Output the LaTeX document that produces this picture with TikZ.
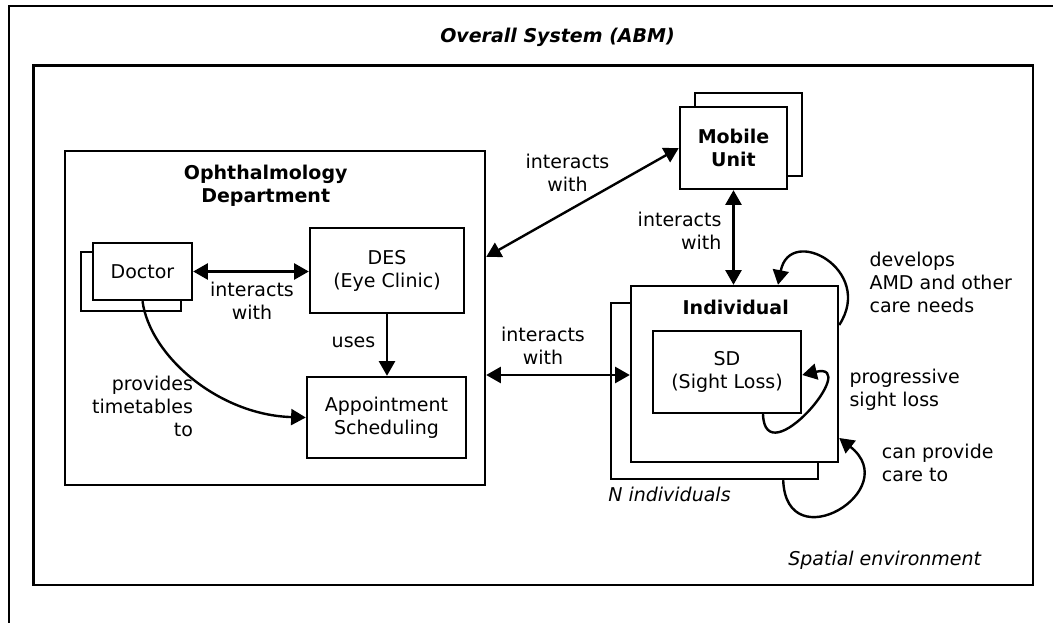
\documentclass[tikz,border=0pt]{standalone}
\usepackage{fontspec}
\setmainfont{DejaVu Sans}
\usetikzlibrary{arrows.meta,calc}
\newcommand\dgfont{\fontsize{14.25pt}{17.25pt}\selectfont}
\begin{document}
\begin{tikzpicture}[x=0.75pt,y=-0.75pt,
  every node/.style={font=\dgfont, inner sep=0pt},
  box/.style={draw, line width=1.8pt, fill=white, align=center},
  lbl/.style={align=center},
  >={Triangle[length=11pt,width=12pt]},
  conn/.style={line width=1.8pt, <->},
  oneway/.style={line width=1.8pt, ->}
]
\useasboundingbox (0,0) rectangle (1053,623);
% outer frame
\draw[line width=2.2pt] (1053,6) -- (9,6) -- (9,623);
\node[box, minimum width=749.6pt, minimum height=389.6pt] (env) at (533.25,325.25) {};
\node[anchor=base, font=\dgfont\bfseries\itshape] (title) at (557.5,42.7) {Overall System (ABM)};
\node[anchor=base west, font=\dgfont\itshape] (spat) at (788,565) {Spatial environment};

% Ophthalmology department
\node[box, minimum width=315pt, minimum height=250.5pt] (oph) at (275,318) {};
\node[lbl, font=\dgfont\bfseries] (opht) at (265.7,185.5) {Ophthalmology\\Department};
\node[box, minimum width=75pt, minimum height=44.25pt] (docb) at (131,281.5) {};
\node[box, minimum width=74.25pt, minimum height=42.75pt] (doc) at (142.5,271.5) {Doctor};
\node[box, minimum width=115.5pt, minimum height=63.75pt] (des) at (387,270.5) {DES\\(Eye Clinic)};
\node[box, minimum width=119.25pt, minimum height=60.75pt] (app) at (386.5,417.5) {Appointment\\Scheduling};

% Mobile unit
\node[box, minimum width=80.25pt, minimum height=62.25pt] (mobb) at (748.5,134.5) {};
\node[box, minimum width=80.25pt, minimum height=61.5pt, font=\dgfont\bfseries] (mob) at (733.5,148) {Mobile\\Unit};

% Individuals
\node[box, minimum width=155.25pt, minimum height=132pt] (indb) at (714.5,391) {};
\node[box, minimum width=155.25pt, minimum height=132pt] (ind) at (734.5,374) {};
\node[anchor=base, font=\dgfont\bfseries] (indt) at (735.7,315) {Individual};
\node[box, minimum width=111pt, minimum height=61.5pt] (sd) at (727,372) {SD\\(Sight Loss)};
\node[anchor=base west, font=\dgfont\itshape] (nind) at (608,501.5) {N individuals};

% connectors
\draw[conn] (doc.east) -- (doc.east -| des.west);
\draw[oneway] (des.south) -- (des.south |- app.north);
\draw[oneway] (doc.south) .. controls +(7.5,55) and +(-87,-2.5) .. (app.west);
\coordinate (om) at ($(oph.east)+(0,-61)$);
\draw[conn] (om) -- (mob.west);
\draw[conn] (mob.south) -- (mob.south |- ind.north);
\coordinate (oi) at ($(oph.east)+(0,57)$);
\draw[conn] (oi) -- (oi -| ind.west);
% loops
\coordinate (dvs) at ($(ind.east)+(0,-49)$);
\coordinate (dve) at ($(ind.north)+(43.5,0)$);
\draw[oneway] (dvs) .. controls +(36,-55) and +(12,-61) .. (dve);
\coordinate (sls) at ($(sd.south)+(36,0)$);
\coordinate (sle) at ($(sd.east)+(0,3)$);
\draw[oneway] (sls) .. controls +(2,62) and +(60,-14) .. (sle);
\coordinate (cps) at ($(indb.south east)+(-36,0)$);
\coordinate (cpe) at ($(ind.east)+(0,64)$);
\draw[oneway] (cps) .. controls +(3,81) and +(66,52) .. (cpe);

% labels
\node[lbl] (l1) at (252,300.5) {interacts\\with};
\node[anchor=base] (l2) at (353.5,348) {uses};
\node[align=right, anchor=east] (l3) at (193.3,406.3) {provides\\timetables\\to};
\node[lbl] (l4) at (567.5,172.3) {interacts\\with};
\node[align=right, anchor=east] (l5) at (721.7,231.1) {interacts\\with};
\node[lbl] (l6) at (543,345.3) {interacts\\with};
\node[align=left, anchor=west] (l7) at (869.3,282) {develops\\AMD and other\\care needs};
\node[align=left, anchor=west] (l8) at (849.3,389.5) {progressive\\sight loss};
\node[align=left, anchor=west] (l9) at (881.7,462.8) {can provide\\care to};
\end{tikzpicture}
\end{document}
